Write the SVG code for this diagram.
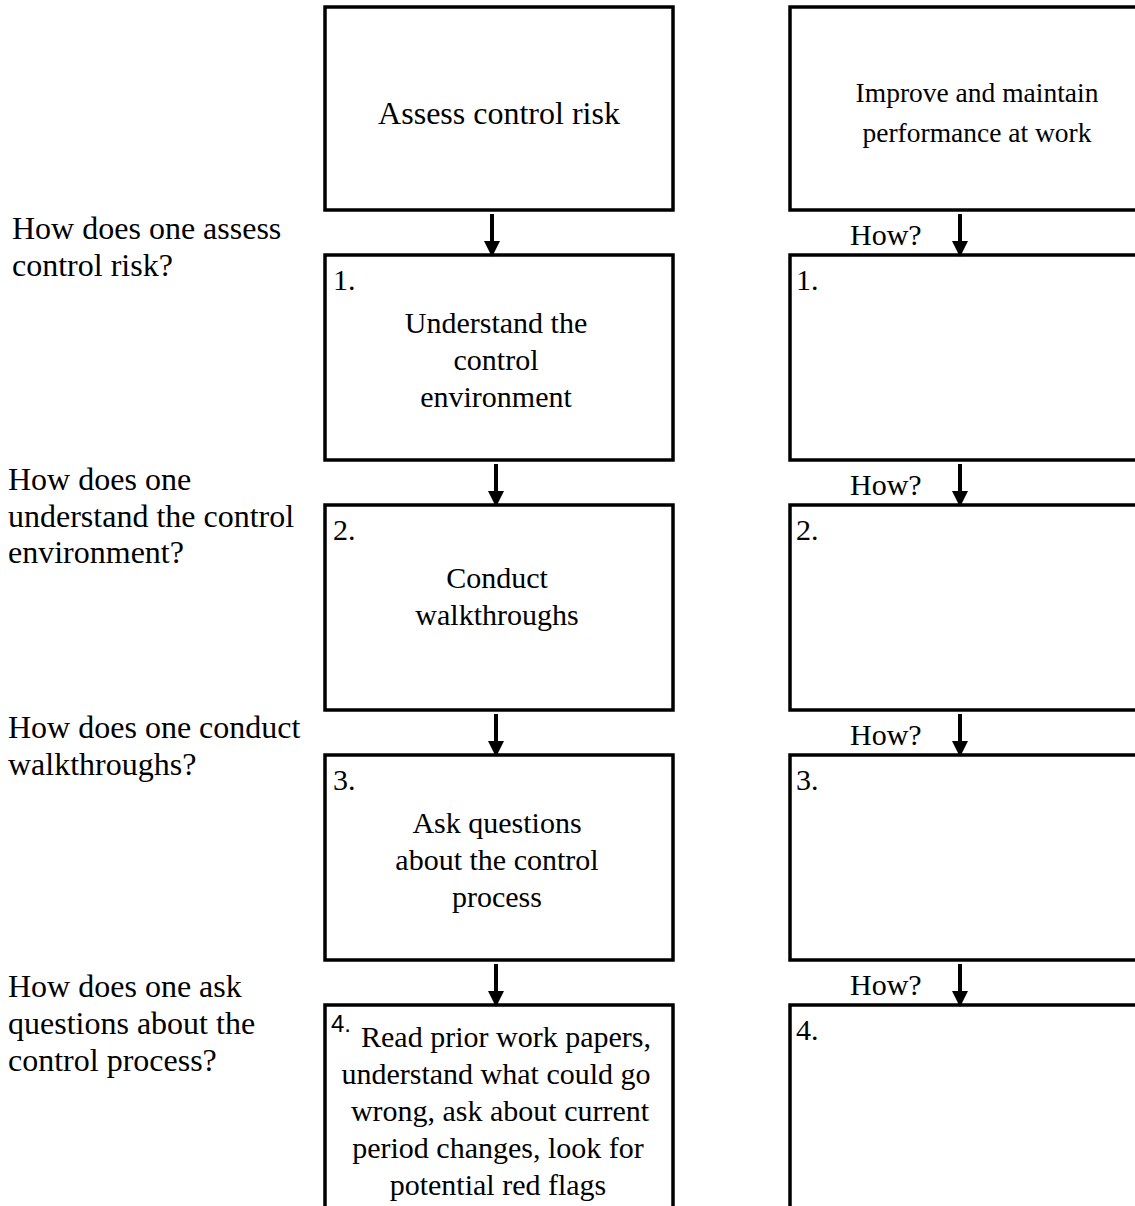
<svg xmlns="http://www.w3.org/2000/svg" width="1135" height="1206" viewBox="0 0 1135 1206">
<style>
text{font-family:"Liberation Serif","Times New Roman",serif;font-size:30px;fill:#000}
.c{text-anchor:middle}
.lab{font-size:32px}
.box{fill:#fff;stroke:#000;stroke-width:3.5}
.arr{stroke:#000;stroke-width:4;fill:none}
</style>
<defs>
<marker id="ah" markerUnits="userSpaceOnUse" markerWidth="16" markerHeight="16" viewBox="0 0 16 16" refX="15" refY="8" orient="auto">
<path d="M0,0 L16,8 L0,16 Z" fill="#000"/>
</marker>
</defs>
<g id="labels">
<text class="lab" x="12" y="239">How does one assess</text>
<text class="lab" x="12" y="276">control risk?</text>
<text class="lab" x="8" y="490">How does one</text>
<text class="lab" x="8" y="527">understand the control</text>
<text class="lab" x="8" y="563">environment?</text>
<text class="lab" x="8" y="738">How does one conduct</text>
<text class="lab" x="8" y="775">walkthroughs?</text>
<text class="lab" x="8" y="997">How does one ask</text>
<text class="lab" x="8" y="1034">questions about the</text>
<text class="lab" x="8" y="1071">control process?</text>
</g>
<g id="left-top">
<rect class="box" x="325" y="7" width="348" height="203"/>
<text class="c" x="499" y="124" style="font-size:32px">Assess control risk</text>
</g>
<g id="left-1">
<rect class="box" x="325" y="255" width="348" height="205"/>
<text x="333" y="290">1.</text>
<text class="c" x="496" y="333">Understand the</text>
<text class="c" x="496" y="370">control</text>
<text class="c" x="496" y="407">environment</text>
</g>
<g id="left-2">
<rect class="box" x="325" y="505" width="348" height="205"/>
<text x="333" y="540">2.</text>
<text class="c" x="497" y="588">Conduct</text>
<text class="c" x="497" y="625">walkthroughs</text>
</g>
<g id="left-3">
<rect class="box" x="325" y="755" width="348" height="205"/>
<text x="333" y="790">3.</text>
<text class="c" x="497" y="833">Ask questions</text>
<text class="c" x="497" y="870">about the control</text>
<text class="c" x="497" y="907">process</text>
</g>
<g id="left-4">
<rect class="box" x="325" y="1005" width="348" height="220"/>
<text x="331" y="1032" style="font-family:'Liberation Sans',Arial,sans-serif;font-size:24px">4.</text>
<text class="c" x="506" y="1047">Read prior work papers,</text>
<text class="c" x="496" y="1084">understand what could go</text>
<text class="c" x="500" y="1121">wrong, ask about current</text>
<text class="c" x="498" y="1158">period changes, look for</text>
<text class="c" x="498" y="1195">potential red flags</text>
</g>
<g id="right-top">
<rect class="box" x="790" y="7" width="380" height="203"/>
<text class="c" x="977" y="102" style="font-size:27.5px">Improve and maintain</text>
<text class="c" x="977" y="142" style="font-size:27.5px">performance at work</text>
</g>
<g id="right-1">
<rect class="box" x="790" y="255" width="380" height="205"/>
<text x="796" y="290">1.</text>
</g>
<g id="right-2">
<rect class="box" x="790" y="505" width="380" height="205"/>
<text x="796" y="540">2.</text>
</g>
<g id="right-3">
<rect class="box" x="790" y="755" width="380" height="205"/>
<text x="796" y="790">3.</text>
</g>
<g id="right-4">
<rect class="box" x="790" y="1005" width="380" height="220"/>
<text x="796" y="1040">4.</text>
</g>
<g id="how-labels">
<text x="850" y="245">How?</text>
<text x="850" y="495">How?</text>
<text x="850" y="745">How?</text>
<text x="850" y="995">How?</text>
</g>
<g id="connectors">
<line class="arr" x1="492" y1="214" x2="492" y2="256" marker-end="url(#ah)"/>
<line class="arr" x1="496" y1="464" x2="496" y2="506" marker-end="url(#ah)"/>
<line class="arr" x1="496" y1="714" x2="496" y2="756" marker-end="url(#ah)"/>
<line class="arr" x1="496" y1="964" x2="496" y2="1006" marker-end="url(#ah)"/>
<line class="arr" x1="960" y1="214" x2="960" y2="256" marker-end="url(#ah)"/>
<line class="arr" x1="960" y1="464" x2="960" y2="506" marker-end="url(#ah)"/>
<line class="arr" x1="960" y1="714" x2="960" y2="756" marker-end="url(#ah)"/>
<line class="arr" x1="960" y1="964" x2="960" y2="1006" marker-end="url(#ah)"/>
</g>
</svg>
